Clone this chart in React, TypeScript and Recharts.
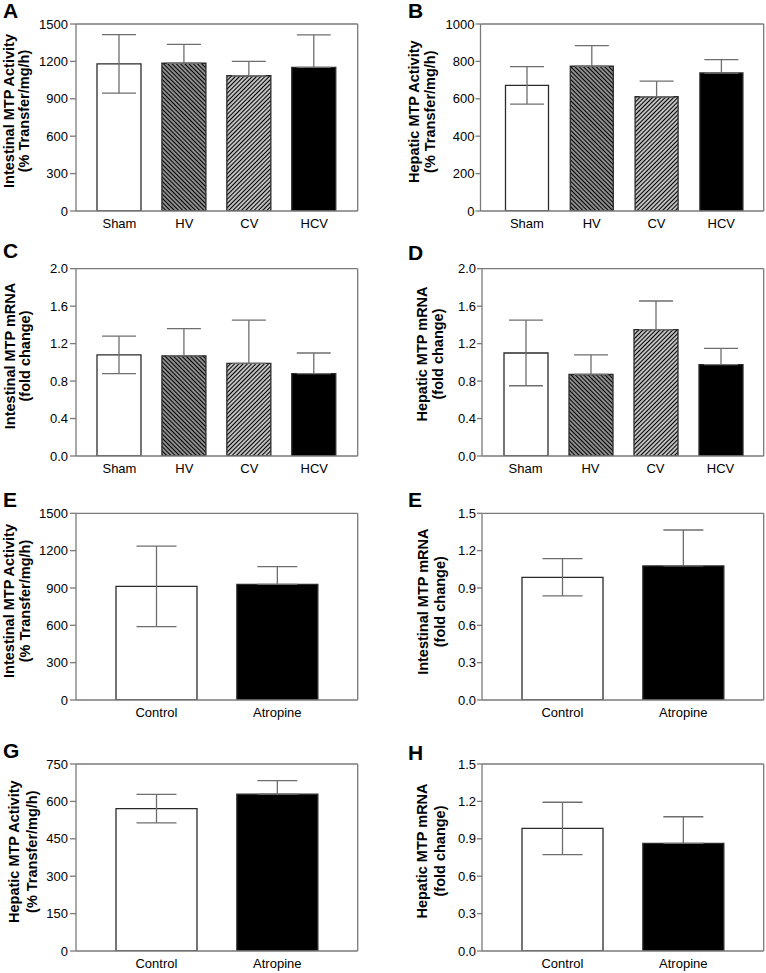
import React from 'react';
import { BarChart, Bar, Cell, XAxis, YAxis, CartesianGrid, ErrorBar } from 'recharts';

// groups
const groupLabels = ['Sham', 'HV', 'CV', 'HCV'];
const groupFills = ['#ffffff', 'url(#hatchHV)', 'url(#hatchCV)', '#000000'];
const atropineLabels = ['Control', 'Atropine'];
const atropineFills = ['#ffffff', '#000000'];

// values (mean and SEM)
const intestinalActivity = [1180, 1185, 1085, 1152];
const intestinalActivitySem = [235, 152, 116, 260];
const hepaticActivity = [672, 774, 611, 738];
const hepaticActivitySem = [100, 110, 84, 71];
const intestinalMrna = [1.08, 1.07, 0.99, 0.88];
const intestinalMrnaSem = [0.2, 0.29, 0.46, 0.22];
const hepaticMrna = [1.1, 0.87, 1.35, 0.975];
const hepaticMrnaSem = [0.35, 0.21, 0.305, 0.175];

const atrIntestinalActivity = [913, 929];
const atrIntestinalActivitySem = [323, 142];
const atrIntestinalMrna = [0.986, 1.077];
const atrIntestinalMrnaSem = [0.15, 0.289];
const atrHepaticActivity = [571, 629];
const atrHepaticActivitySem = [57, 54];
const atrHepaticMrna = [0.983, 0.864];
const atrHepaticMrnaSem = [0.21, 0.213];

// ticks
const ticks1500 = [0, 300, 600, 900, 1200, 1500];
const ticks1000 = [0, 200, 400, 600, 800, 1000];
const ticks2 = [0, 0.4, 0.8, 1.2, 1.6, 2.0];
const ticks15 = [0, 0.3, 0.6, 0.9, 1.2, 1.5];
const ticks750 = [0, 150, 300, 450, 600, 750];

const AXIS = '#7a7a7a';
const ERR = '#6e6e6e';
const OUTLINE = '#2a2a2a';

interface PanelProps {
  letter: string;
  letterX: number;
  letterY: number;
  left: number;
  top: number;
  height: number;
  axisWidth: number;
  marginTop: number;
  marginRight: number;
  labels: string[];
  fills: string[];
  values: number[];
  sem: number[];
  ticks: number[];
  decimals: number;
  padL: number;
  padR: number;
  barSize: number;
  capWidth: number;
  title: string[];
  titleX: number[];
  titleY: number;
  tickSize: number;
  tickMargin: number;
}

function Panel(p: PanelProps) {
  const data = p.labels.map((name, i) => ({
    name,
    value: p.values[i],
    // white bars show the whole bar, filled bars only the upper half
    err: [p.fills[i] === '#ffffff' ? p.sem[i] : 0, p.sem[i]],
  }));
  const max = p.ticks[p.ticks.length - 1];

  const title = () => (
    <g>
      <text x={p.letterX} y={p.letterY} fontSize={21} fontWeight="bold" fill="#000">
        {p.letter}
      </text>
      {p.title.map((line, i) => (
        <text
          key={i}
          transform={`translate(${p.titleX[i]}, ${p.titleY}) rotate(-90)`}
          textAnchor="middle"
          dominantBaseline="central"
          fontSize={14.5}
          fontWeight="bold"
          fill="#000"
        >
          {line}
        </text>
      ))}
    </g>
  );

  return (
    <div style={{ position: 'absolute', left: p.left, top: p.top }}>
      <BarChart
        width={383}
        height={p.height}
        data={data}
        margin={{ top: p.marginTop, right: p.marginRight, bottom: 0, left: 0 }}
        barSize={p.barSize}
      >
        <CartesianGrid
          stroke={AXIS}
          strokeWidth={1.3}
          syncWithTicks={false}
          horizontalCoordinatesGenerator={({ offset }: any) => [offset.top]}
          verticalCoordinatesGenerator={({ offset }: any) => [offset.left + offset.width]}
        />
        <XAxis
          dataKey="name"
          height={29}
          interval={0}
          tickLine={false}
          tickSize={6}
          tickMargin={2}
          padding={{ left: p.padL, right: p.padR }}
          axisLine={{ stroke: AXIS, strokeWidth: 1.3 }}
          tick={{ fontSize: 13, fill: '#000' }}
        />
        <YAxis
          width={p.axisWidth}
          domain={[0, max]}
          ticks={p.ticks}
          interval={0}
          allowDataOverflow
          tickSize={p.tickSize}
          tickMargin={p.tickMargin}
          tickFormatter={(v: number) => v.toFixed(p.decimals)}
          axisLine={{ stroke: AXIS, strokeWidth: 1.3 }}
          tickLine={{ stroke: AXIS, strokeWidth: 1.3 }}
          tick={{ fontSize: 13, fill: '#000' }}
          label={title}
        />
        <Bar dataKey="value" stroke={OUTLINE} strokeWidth={1.3} isAnimationActive={false}>
          {data.map((d, i) => (
            <Cell key={d.name} fill={p.fills[i]} />
          ))}
          <ErrorBar dataKey="err" width={p.capWidth} stroke={ERR} strokeWidth={1.3} isAnimationActive={false} />
        </Bar>
      </BarChart>
    </div>
  );
}

const leftCol = { left: 0, axisWidth: 76, marginRight: 25.3, tickSize: 6, tickMargin: 2 };
const rightCol = { left: 383, axisWidth: 99, marginRight: 2.3, tickSize: 5, tickMargin: 1 };
const fourBars = { labels: groupLabels, fills: groupFills, padL: 11, padR: 11, barSize: 44, capWidth: 17 };
const twoBars = { labels: atropineLabels, fills: atropineFills, padL: 20, padR: 20, barSize: 81, capWidth: 20 };

export default function App() {
  return (
    <div
      style={{
        position: 'absolute',
        left: 0,
        top: 0,
        width: 766,
        height: 973,
        overflow: 'hidden',
        background: '#fff',
        fontFamily: '"Liberation Sans", Arial, sans-serif',
      }}
    >
      <svg width={0} height={0} style={{ position: 'absolute' }}>
        <defs>
          <pattern id="hatchHV" width={3} height={3} patternUnits="userSpaceOnUse" patternTransform="rotate(-45)">
            <rect width={3} height={3} fill="#fff" />
            <line x1={1.5} y1={0} x2={1.5} y2={3} stroke="#000" strokeWidth={1.9} />
          </pattern>
          <pattern id="hatchCV" width={3} height={3} patternUnits="userSpaceOnUse" patternTransform="rotate(45)">
            <rect width={3} height={3} fill="#fff" />
            <line x1={1.5} y1={0} x2={1.5} y2={3} stroke="#000" strokeWidth={1.5} />
          </pattern>
        </defs>
      </svg>

      {/* A */}
      <Panel
        {...leftCol}
        {...fourBars}
        letter="A" letterX={3} letterY={18}
        top={0} height={240} marginTop={24}
        values={intestinalActivity} sem={intestinalActivitySem}
        ticks={ticks1500} decimals={0}
        title={['Intestinal MTP Activity', '(% Transfer/mg/h)']} titleX={[9.2, 23.7]} titleY={111}
      />
      {/* B */}
      <Panel
        {...rightCol}
        {...fourBars}
        axisWidth={97.5} padL={14} padR={10} barSize={43}
        letter="B" letterX={25} letterY={18}
        top={0} height={240} marginTop={24}
        values={hepaticActivity} sem={hepaticActivitySem}
        ticks={ticks1000} decimals={0}
        title={['Hepatic MTP Activity', '(% Transfer/mg/h)']} titleX={[31, 47]} titleY={111.7}
      />
      {/* C */}
      <Panel
        {...leftCol}
        {...fourBars}
        letter="C" letterX={3} letterY={18}
        top={240} height={245} marginTop={28.7}
        values={intestinalMrna} sem={intestinalMrnaSem}
        ticks={ticks2} decimals={1}
        title={['Intestinal MTP mRNA', '(fold change)']} titleX={[9.7, 25]} titleY={116}
      />
      {/* D */}
      <Panel
        {...rightCol}
        {...fourBars}
        padR={10.7}
        letter="D" letterX={25} letterY={20}
        top={240} height={245} marginTop={28.7}
        values={hepaticMrna} sem={hepaticMrnaSem}
        ticks={ticks2} decimals={1}
        title={['Hepatic MTP mRNA', '(fold change)']} titleX={[39, 55]} titleY={114}
      />
      {/* E left */}
      <Panel
        {...leftCol}
        {...twoBars}
        letter="E" letterX={3} letterY={27}
        top={480} height={249} marginTop={33.3}
        values={atrIntestinalActivity} sem={atrIntestinalActivitySem}
        ticks={ticks1500} decimals={0}
        title={['Intestinal MTP Activity', '(% Transfer/mg/h)']} titleX={[9, 25]} titleY={121}
      />
      {/* E right */}
      <Panel
        {...rightCol}
        {...twoBars}
        letter="E" letterX={25} letterY={27}
        top={480} height={249} marginTop={33.3}
        values={atrIntestinalMrna} sem={atrIntestinalMrnaSem}
        ticks={ticks15} decimals={1}
        title={['Intestinal MTP mRNA', '(fold change)']} titleX={[40, 57]} titleY={121.7}
      />
      {/* G */}
      <Panel
        {...leftCol}
        {...twoBars}
        letter="G" letterX={3} letterY={28}
        top={730} height={250} marginTop={34}
        values={atrHepaticActivity} sem={atrHepaticActivitySem}
        ticks={ticks750} decimals={0}
        title={['Hepatic MTP Activity', '(% Transfer/mg/h)']} titleX={[14, 32]} titleY={121.7}
      />
      {/* H */}
      <Panel
        {...rightCol}
        {...twoBars}
        letter="H" letterX={25} letterY={30}
        top={730} height={250} marginTop={34}
        values={atrHepaticMrna} sem={atrHepaticMrnaSem}
        ticks={ticks15} decimals={1}
        title={['Hepatic MTP mRNA', '(fold change)']} titleX={[39, 57]} titleY={121}
      />
    </div>
  );
}
